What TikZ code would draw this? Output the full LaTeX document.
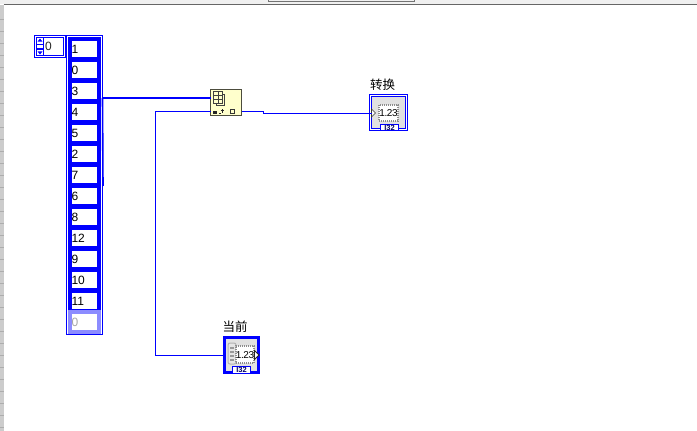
\documentclass[tikz,border=0pt]{standalone}
\usepackage{fontspec}
\setmainfont{Liberation Sans}
\newfontfamily\cjk{Noto Sans CJK SC}
\definecolor{lvblue}{RGB}{0,0,255}
\definecolor{lvgray}{RGB}{225,225,225}
\definecolor{lvyellow}{RGB}{255,255,204}
\tikzset{
  x=1pt,y=-1pt,
  box/.style={rectangle,inner sep=0pt,outer sep=0pt,line width=1pt},
  cellbox/.style={box,draw=lvblue,line width=3.6pt,fill=white,minimum width=29pt,minimum height=19.5pt,
     text width=26pt,align=left,font=\fontsize{12}{12}\selectfont,text depth=0pt},
  ghost/.style={cellbox,draw=lvblue!45,text=black!35},
  frameline/.style={draw=lvblue,line width=1pt},
  wirethin/.style={draw=lvblue,line width=1pt},
  wirethick/.style={draw=lvblue,line width=2pt},
  lab/.style={font=\cjk\fontsize{12.5}{13}\selectfont,inner sep=0pt,text=black},
  numtext/.style={font=\fontsize{10}{10}\selectfont\addfontfeatures{LetterSpace=-4},inner sep=0pt},
  tabtext/.style={font=\bfseries\fontsize{7.5}{7.5}\selectfont,inner sep=0pt,text=black!60!lvblue},
}
\newcommand{\boxat}[6]{\node[box,#1,minimum width=#4-#3,minimum height=#6-#5] (#2) at ({(#3+#4)/2},{(#5+#6)/2}) {};}
\begin{document}
\begin{tikzpicture}
\useasboundingbox (0,0) rectangle (697,431);
\fill[white] (0,0) rectangle (697,431);
% window edges
\fill[black!6] (0,0) rectangle (697,4);
\draw[black!55,line width=1pt] (268.5,0) -- (268.5,1.5) -- (414.5,1.5) -- (414.5,0);
\draw[black!60,line width=1pt] (3.5,4.5) -- (697,4.5);
\fill[black!20] (0,5) rectangle (3.5,431);
\foreach \t in {19,31,...,431}{\draw[black!32,line width=.7pt] (0,\t) -- (3.5,\t);}

% index control
\boxat{frameline,fill=white}{idx}{34.5}{65.5}{35.5}{57.5}
\boxat{frameline,fill=white}{spin}{36.5}{43.5}{37.5}{55.5}
\boxat{frameline,fill=white}{idxval}{43.5}{63.5}{37.5}{55.5}
\node[font=\fontsize{12}{12}\selectfont,inner sep=0pt,anchor=west,text=black!85] (idxtxt) at (45,46.5) {0};
\fill[lvblue] (40,38.5) -- (37.5,41.7) -- (42.5,41.7) -- cycle;
\fill[lvblue] (40,54.5) -- (37.5,51.3) -- (42.5,51.3) -- cycle;
\fill[lvblue] (37,43.5) rectangle (43,45.2);
\fill[lvblue] (37,47.8) rectangle (43,49.5);

% array frame
\boxat{frameline,fill=white}{arr}{66.5}{102.5}{35.5}{334.5}
\foreach \v [count=\i from 0] in {1,0,3,4,5,2,7,6,8,12,9,10,11}{
  \node[cellbox] (c\i) at (84.5,{49+21*\i}) {\v};
}
\node[ghost] (c13) at (84.5,322) {0};

% wires
\coordinate (arrout) at (102.5,98);
\coordinate (arrdrop) at (103,186);
\draw[lvblue,line width=1.6pt] (arrout) -- (arrdrop);

% function node
\boxat{draw=black!70!lvyellow,line width=1.2pt,fill=lvyellow}{fn}{210.5}{241.5}{89.5}{115.5}
\coordinate (fnin) at (fn.west|-0,98);
\coordinate (fncur) at (fn.west|-0,111);
\coordinate (fnout) at (fn.east|-0,111);
\draw[black!75,line width=.8pt] (222.5,94)--(224.5,94)--(224.5,105.5)--(216,105.5)--(216,103);
\draw[black!75,line width=.8pt] (213.5,91) rectangle (222.5,103);
\draw[black!75,line width=.8pt] (218,91)--(218,103) (213.5,95)--(222.5,95) (213.5,99)--(222.5,99);
\fill[black!85] (213,111) rectangle (217,114);
\fill[black!85] (219,112.5) rectangle (220.5,114);
\draw[black!85,line width=.7pt] (222,109)--(222,113) (220.5,110)--(223.5,110);
\draw[black!80,line width=.8pt] (230.5,109.5) rectangle (234.5,113.5);

% indicator
\boxat{frameline,fill=white}{conv}{369.5}{407.5}{94.5}{130.5}
\boxat{frameline,fill=lvgray}{convin}{371.5}{405.5}{96.5}{128.5}
\boxat{draw=black!45,densely dotted,line width=1.6pt,fill=white}{convnum}{379}{398}{105}{121}
\node[numtext] (convtxt) at (388.5,113) {1.23};
\fill[white,draw=lvblue,line width=1pt] (380.5,130.5) -- (380.5,124.5) -- (398.5,124.5) -- (398.5,130.5) -- cycle;
\node[tabtext] (convtab) at (389.5,127.8) {I32};
\node[lab] (convlab) at (382.5,85) {转换};
\coordinate (convin0) at (convin.west|-0,113);
\draw[black!80,line width=.7pt,fill=white] (371.5,109) -- (375.5,113) -- (371.5,117) -- cycle;

% control
\boxat{draw=lvblue,line width=3pt,fill=lvgray}{cur}{224.5}{258.5}{337.5}{372.5}
\draw[black!30,line width=1pt,fill=black!10,rounded corners=2pt] (228,343) rectangle (236,364);
\foreach \t in {347,351,355,359}{\fill[black!40] (230,\t) rectangle (234,\t+1.5);}
\boxat{draw=black!45,densely dotted,line width=1.2pt,fill=white}{curnum}{236}{254}{346}{363}
\node[numtext] (curtxt) at (245,355) {1.23};
\fill[white,draw=black!85,line width=.8pt] (254.5,350.5) -- (259,355) -- (254.5,359.5) -- cycle;
\fill[white,draw=lvblue,line width=1pt] (232.5,373) -- (232.5,366.5) -- (250.5,366.5) -- (250.5,373) -- cycle;
\node[tabtext] (curtab) at (241.5,369.8) {I32};
\node[lab] (curlab) at (235,327) {当前};
\coordinate (curin) at (cur.west|-0,355);

% connectors
\draw[wirethick] (arrout) -- (fnin);
\draw[wirethin] (fncur) -- (155.5,111) -- (155.5,355) -- (curin);
\draw[wirethin] (fnout) -- (263.5,111) -- (263.5,113.5) -- (convin0|-0,113.5);
\end{tikzpicture}
\end{document}
